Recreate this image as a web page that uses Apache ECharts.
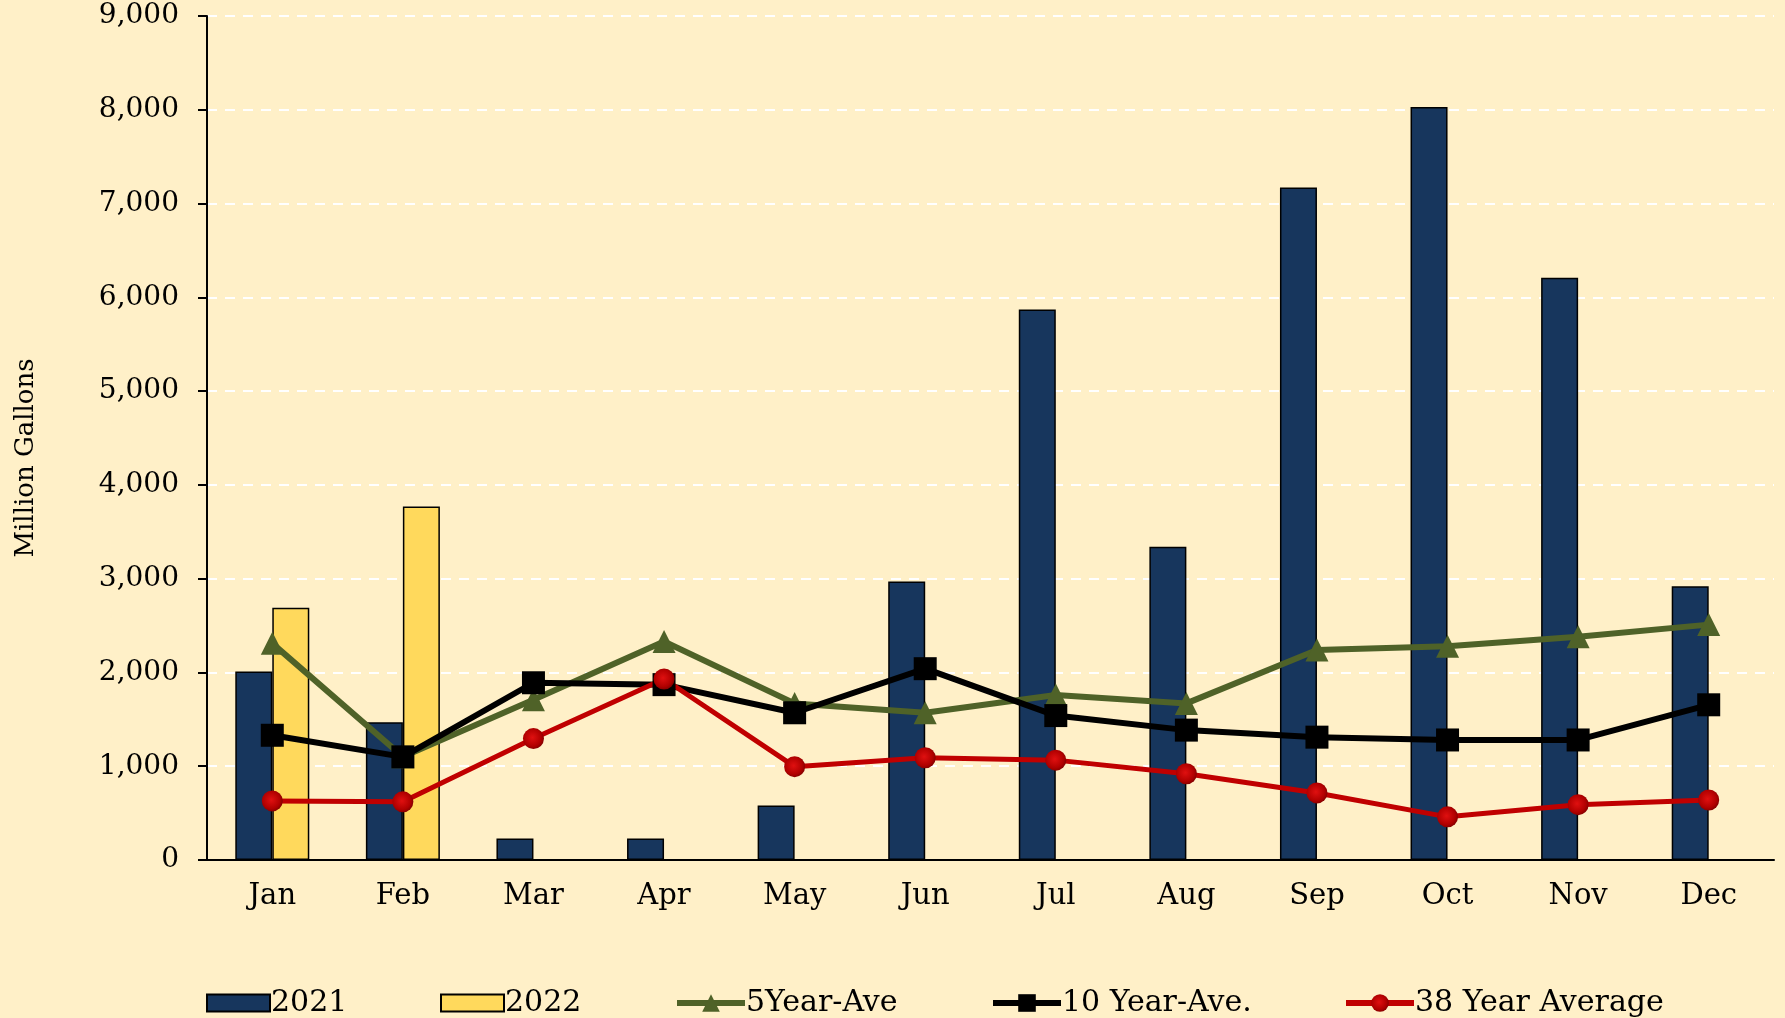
<!DOCTYPE html>
<html>
<head>
<meta charset="utf-8">
<script src="https://cdn.jsdelivr.net/npm/echarts@6/dist/echarts.min.js"></script>
<style>
  html, body { margin: 0; padding: 0; background: #FFF0C8; }
  #chart { width: 1785px; height: 1018px; }
</style>
</head>
<body>
<div id="chart"></div>
<script>
// 数据
var months = ['Jan', 'Feb', 'Mar', 'Apr', 'May', 'Jun', 'Jul', 'Aug', 'Sep', 'Oct', 'Nov', 'Dec'];
var yr2021 = [2010, 1470, 230, 230, 580, 2970, 5870, 3340, 7170, 8030, 6210, 2920];
var yr2022 = [2690, 3770, null, null, null, null, null, null, null, null, null, null];
var ave5 = [2310, 1100, 1710, 2330, 1670, 1570, 1760, 1670, 2240, 2280, 2380, 2510];
var ave10 = [1330, 1100, 1890, 1870, 1570, 2040, 1540, 1385, 1310, 1280, 1280, 1655];
var ave38 = [630, 620, 1295, 1930, 995, 1090, 1065, 920, 715, 460, 590, 640];
var legendNames = ['2021', '2022', '5Year-Ave', '10 Year-Ave.', '38 Year Average'];
var legendLeft = [201, 435, 669, 985, 1338];

var serif = 'DejaVu Serif';
var chart = echarts.init(document.getElementById('chart'));

// 每个图例单独放置
var legends = legendNames.map(function (name, i) {
  var isBar = i < 2;
  var lg = {
    data: [isBar ? { name: name, icon: 'rect' } : name],
    left: legendLeft[i],
    top: 983,
    itemWidth: isBar ? 63 : 68,
    itemHeight: isBar ? 17 : 22,
    itemGap: 0,
    textStyle: { fontFamily: serif, fontSize: 30, color: '#000', padding: [0, 0, 0, -4] }
  };
  if (isBar) {
    lg.itemStyle = { borderColor: '#000', borderWidth: 2 };
  } else {
    lg.lineStyle = { width: 6 };
  }
  return lg;
});

chart.setOption({
  backgroundColor: '#FFF0C8',
  textStyle: { fontFamily: serif, color: '#000' },
  grid: { left: 207, right: 11, top: 16, bottom: 158 },
  legend: legends,
  graphic: [{
    type: 'text',
    x: 26,
    y: 458,
    rotation: Math.PI / 2,
    style: {
      text: 'Million Gallons',
      font: '26px "DejaVu Serif"',
      fill: '#000',
      align: 'center',
      verticalAlign: 'middle'
    }
  }],
  xAxis: {
    type: 'category',
    data: months,
    axisLine: { lineStyle: { color: '#000', width: 2 } },
    axisTick: { alignWithLabel: true, length: 9, lineStyle: { color: '#000', width: 2 } },
    axisLabel: { fontFamily: serif, fontSize: 29, color: '#000', margin: 22 }
  },
  yAxis: {
    type: 'value',
    min: 0,
    max: 9000,
    interval: 1000,
    axisLine: { show: true, lineStyle: { color: '#000', width: 2 } },
    axisTick: { show: true, length: 9, lineStyle: { color: '#000', width: 2 } },
    axisLabel: {
      fontFamily: serif, fontSize: 28, color: '#000', margin: 28,
      formatter: function (v) { return v.toLocaleString('en-US'); }
    },
    splitLine: { lineStyle: { color: '#FFFFFF', width: 2, type: [10, 8] } }
  },
  series: [
    {
      name: '2021',
      type: 'bar',
      data: yr2021,
      barWidth: 37,
      barGap: '0%',
      itemStyle: { color: '#17365D', borderColor: '#000', borderWidth: 1.5 }
    },
    {
      name: '2022',
      type: 'bar',
      data: yr2022,
      barWidth: 37,
      barGap: '0%',
      itemStyle: { color: '#FFD95C', borderColor: '#000', borderWidth: 1.5 }
    },
    {
      name: '5Year-Ave',
      type: 'line',
      data: ave5,
      symbol: 'triangle',
      symbolSize: 23,
      lineStyle: { color: '#4F6228', width: 6 },
      itemStyle: { color: '#4F6228' }
    },
    {
      name: '10 Year-Ave.',
      type: 'line',
      data: ave10,
      symbol: 'rect',
      symbolSize: 23,
      lineStyle: { color: '#000', width: 6 },
      itemStyle: { color: '#000' }
    },
    {
      name: '38 Year Average',
      type: 'line',
      data: ave38,
      symbol: 'circle',
      symbolSize: 21,
      lineStyle: { color: '#C00000', width: 5 },
      itemStyle: {
        color: new echarts.graphic.RadialGradient(0.45, 0.45, 0.6, [
          { offset: 0, color: '#E01010' },
          { offset: 0.7, color: '#B00000' },
          { offset: 1, color: '#7A0000' }
        ])
      }
    }
  ]
});
</script>
</body>
</html>
